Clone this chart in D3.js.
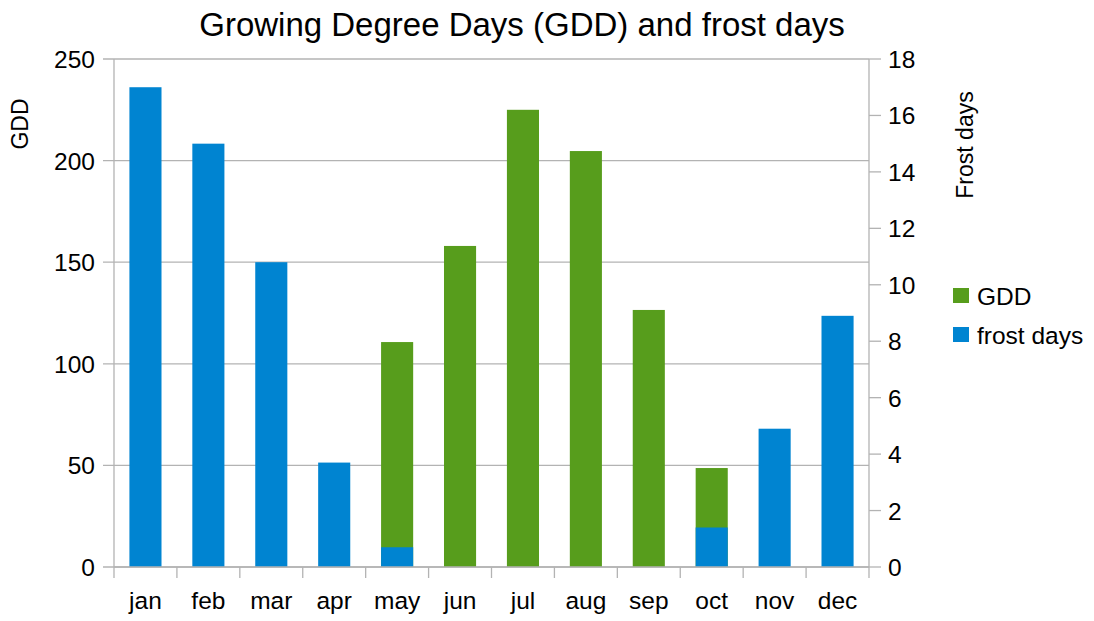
<!DOCTYPE html>
<html>
<head>
<meta charset="utf-8">
<script src="https://cdn.jsdelivr.net/npm/d3@7"></script>
<style>
  body { margin: 0; background: #fff; }
  svg { display: block; font-family: "Liberation Sans", Arial, sans-serif; }
</style>
</head>
<body>
<svg id="chart"></svg>
<script>
const months = ['jan', 'feb', 'mar', 'apr', 'may', 'jun', 'jul', 'aug', 'sep', 'oct', 'nov', 'dec'];
const gdd = [0, 0, 0, 0, 110.7, 158, 225, 204.7, 126.5, 48.7, 0, 0];
const frostDays = [17, 15, 10.8, 3.7, 0.7, 0, 0, 0, 0, 1.4, 4.9, 8.9];
const gddTicks = [0, 50, 100, 150, 200, 250];
const frostTicks = [0, 2, 4, 6, 8, 10, 12, 14, 16, 18];

const width = 1094;
const height = 621;
const plotLeft = 114, plotRight = 869, plotTop = 59, plotBottom = 567;
const green = '#579d1c';
const blue = '#0084d1';
const grid = '#b3b3b3';

const svg = d3.select('#chart')
  .attr('width', width)
  .attr('height', height);

// scales
const x = d3.scaleBand().domain(months).range([plotLeft, plotRight]);
const yL = d3.scaleLinear().domain([0, 250]).range([plotBottom, plotTop]);
const yR = d3.scaleLinear().domain([0, 18]).range([plotBottom, plotTop]);

// gridlines
svg.append('g')
  .selectAll('line')
  .data(gddTicks)
  .enter()
  .append('line')
  .attr('x1', plotLeft - 11)
  .attr('x2', plotRight)
  .attr('y1', (d) => yL(d))
  .attr('y2', (d) => yL(d))
  .attr('stroke', grid)
  .attr('stroke-width', 1.3);

const bw = x.bandwidth() * 0.51;
const off = (x.bandwidth() - bw) / 2;

// bars - GDD first, frost days on top
svg.append('g')
  .selectAll('rect')
  .data(months)
  .enter()
  .append('rect')
  .attr('x', (d) => x(d) + off)
  .attr('width', bw)
  .attr('y', (d, i) => yL(gdd[i]))
  .attr('height', (d, i) => yL(0) - yL(gdd[i]))
  .attr('fill', green);

svg.append('g')
  .selectAll('rect')
  .data(months)
  .enter()
  .append('rect')
  .attr('x', (d) => x(d) + off)
  .attr('width', bw)
  .attr('y', (d, i) => yR(frostDays[i]))
  .attr('height', (d, i) => yR(0) - yR(frostDays[i]))
  .attr('fill', blue);

// axes lines
const axisG = svg.append('g').attr('stroke', grid).attr('stroke-width', 1.3);
axisG.append('line').attr('x1', plotLeft).attr('x2', plotLeft).attr('y1', plotTop).attr('y2', plotBottom + 11);
axisG.append('line').attr('x1', plotRight).attr('x2', plotRight).attr('y1', plotTop).attr('y2', plotBottom + 11);
axisG.append('line').attr('x1', plotLeft).attr('x2', plotRight).attr('y1', plotBottom).attr('y2', plotBottom);

// category ticks
axisG.selectAll('.ctick')
  .data(months.slice(1))
  .enter()
  .append('line')
  .attr('x1', (d) => x(d))
  .attr('x2', (d) => x(d))
  .attr('y1', plotBottom)
  .attr('y2', plotBottom + 11);

// right ticks
axisG.selectAll('.rtick')
  .data(frostTicks)
  .enter()
  .append('line')
  .attr('x1', plotRight)
  .attr('x2', plotRight + 12)
  .attr('y1', (d) => yR(d))
  .attr('y2', (d) => yR(d));

// left labels
svg.append('g')
  .selectAll('text')
  .data(gddTicks)
  .enter()
  .append('text')
  .attr('x', 95)
  .attr('y', (d) => yL(d) + 9)
  .attr('text-anchor', 'end')
  .attr('font-size', 24.5)
  .text((d) => d);

// right labels
svg.append('g')
  .selectAll('text')
  .data(frostTicks)
  .enter()
  .append('text')
  .attr('x', 888)
  .attr('y', (d) => yR(d) + 9)
  .attr('font-size', 24.5)
  .text((d) => d);

// month labels
svg.append('g')
  .selectAll('text')
  .data(months)
  .enter()
  .append('text')
  .attr('x', (d) => x(d) + x.bandwidth() / 2)
  .attr('y', 609)
  .attr('text-anchor', 'middle')
  .attr('font-size', 24.5)
  .text((d) => d);

// titles
svg.append('text')
  .attr('x', 522)
  .attr('y', 36)
  .attr('text-anchor', 'middle')
  .attr('font-size', 33)
  .text('Growing Degree Days (GDD) and frost days');

svg.append('text')
  .attr('transform', 'translate(28, 124) rotate(-90)')
  .attr('text-anchor', 'middle')
  .attr('font-size', 23)
  .text('GDD');

svg.append('text')
  .attr('transform', 'translate(973, 145) rotate(-90)')
  .attr('text-anchor', 'middle')
  .attr('font-size', 23)
  .text('Frost days');

// legend
const legendItems = [['GDD', green], ['frost days', blue]];
const lg = svg.append('g')
  .selectAll('g')
  .data(legendItems)
  .enter()
  .append('g')
  .attr('transform', (d, i) => `translate(953, ${288 + i * 39})`);

lg.append('rect')
  .attr('width', 16)
  .attr('height', 15)
  .attr('fill', (d) => d[1]);

lg.append('text')
  .attr('x', 24)
  .attr('y', 17)
  .attr('font-size', 24.5)
  .text((d) => d[0]);
</script>
</body>
</html>
